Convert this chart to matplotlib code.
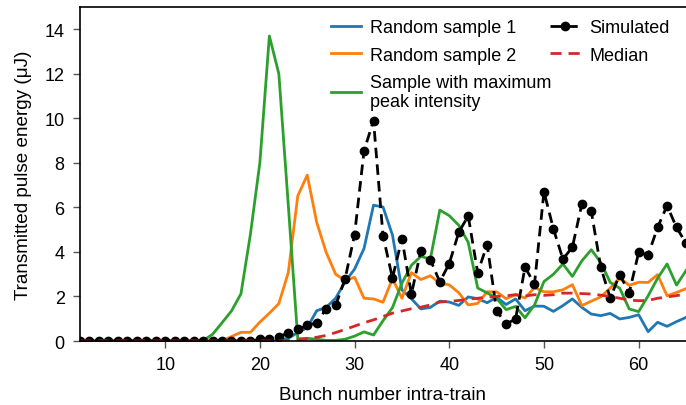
import matplotlib
matplotlib.use("Agg")
import matplotlib.pyplot as plt

plt.rcParams["font.family"] = ["Liberation Sans", "DejaVu Sans"]

# ------------------------------------------------------------
#   DATA
# ------------------------------------------------------------
bunch = list(range(1, 66))

sample1 = [0] * 22 + [
    0.12, 0.38, 0.6, 1.36, 1.51, 1.92, 2.66, 3.23, 4.16, 6.1,
    6.02, 4.76, 2.3, 1.9, 1.44, 1.51, 1.79, 1.75, 1.6, 1.98,
    1.9, 1.72, 1.96, 1.64, 1.89, 1.36, 1.57, 1.56, 1.33, 1.59,
    1.89, 1.51, 1.21, 1.14, 1.24, 0.99, 1.06, 1.18, 0.42, 0.84,
    0.66, 0.87, 1.06]

sample2 = [0] * 16 + [
    0.2, 0.39, 0.39, 0.85, 1.25, 1.68, 3.08, 6.52, 7.45, 5.33,
    3.98, 3.0, 2.72, 2.86, 1.92, 1.89, 1.74, 2.8, 1.92, 3.07,
    2.76, 2.93, 2.6, 2.52, 2.17, 1.62, 1.69, 2.21, 2.21, 1.9,
    2.08, 1.93, 2.4, 2.21, 2.21, 2.3, 2.53, 1.59, 1.79, 1.98,
    2.38, 2.84, 2.5, 2.64, 2.63, 2.98, 2.03, 2.18, 2.35]

max_peak = [0] * 13 + [
    0.02, 0.3, 0.82, 1.35, 2.12, 4.8, 8.02, 13.7, 12.0, 6.1,
    0.1, 0.12, 0.08, 0.03, 0.03, 0.08, 0.22, 0.41, 0.27, 0.91,
    1.5, 2.6, 3.4, 3.8, 3.68, 5.88, 5.63, 5.2, 4.43, 2.38,
    2.16, 1.92, 1.41, 1.55, 1.04, 1.62, 2.67, 3.0, 3.46, 2.9,
    3.6, 4.1, 3.53, 2.63, 2.37, 1.44, 1.32, 2.03, 2.82, 3.46,
    2.51, 3.16]

simulated = [0] * 19 + [
    0.07, 0.09, 0.2, 0.35, 0.52, 0.7, 0.82, 1.45, 1.6, 2.8,
    4.78, 8.55, 9.9, 4.73, 2.83, 4.6, 2.1, 4.06, 3.65, 2.66,
    3.48, 4.88, 5.62, 3.07, 4.33, 1.36, 0.76, 0.99, 3.31, 2.56,
    6.71, 5.03, 3.68, 4.21, 6.15, 5.82, 3.31, 1.93, 2.98, 2.16,
    3.98, 3.86, 5.1, 6.08, 5.1, 4.39]

median = [0] * 22 + [
    0.02, 0.05, 0.1, 0.17, 0.25, 0.38, 0.52, 0.67, 0.82, 0.95,
    1.1, 1.25, 1.35, 1.45, 1.52, 1.62, 1.75, 1.78, 1.82, 1.88,
    1.92, 1.97, 2.0, 2.03, 2.08, 2.02, 2.08, 2.05, 2.08, 2.15,
    2.15, 2.13, 2.11, 2.06, 2.0, 1.92, 1.84, 1.81, 1.82, 1.92,
    1.98, 2.04, 2.1]

# ------------------------------------------------------------
#   PLOT
# ------------------------------------------------------------
fig = plt.figure(figsize=(6.86, 4.06), dpi=100)
ax = fig.add_axes([0.1166, 0.1576, 0.8834, 0.8227])

ax.plot(bunch, sample1, color="#1f77b4", lw=2, label="Random sample 1")
ax.plot(bunch, sample2, color="#ff7f0e", lw=2, label="Random sample 2")
ax.plot(bunch, max_peak, color="#2ca02c", lw=2,
        label="Sample with maximum\npeak intensity")
ax.plot(bunch, simulated, color="black", lw=2, ls="--", dashes=(3.8, 2.2),
        marker="o", ms=6, label="Simulated")
ax.plot(bunch, median, color="#d62728", lw=2, ls="--", dashes=(4, 2.5),
        label="Median")

ax.set_xlim(1, 65)
ax.set_ylim(0, 15)
ax.set_xticks([10, 20, 30, 40, 50, 60])
ax.set_yticks([0, 2, 4, 6, 8, 10, 12, 14])
ax.tick_params(labelsize=13, length=5, width=1, color="#555555", pad=6)
ax.spines["right"].set_visible(False)
for s in ["left", "bottom", "top"]:
    ax.spines[s].set_linewidth(1.2)

ax.set_xlabel("Bunch number intra-train", fontsize=13.6, labelpad=9)
ax.set_ylabel("Transmitted pulse energy (μJ)", fontsize=13.6, labelpad=9)

ax.legend(ncol=2, loc="upper right", bbox_to_anchor=(0.985, 0.985),
          frameon=False, fontsize=13, handlelength=1.65,
          handletextpad=0.5, columnspacing=-0.05, borderaxespad=0.1,
          borderpad=0.3, labelspacing=0.57)

fig.savefig("out.png", dpi=100)
